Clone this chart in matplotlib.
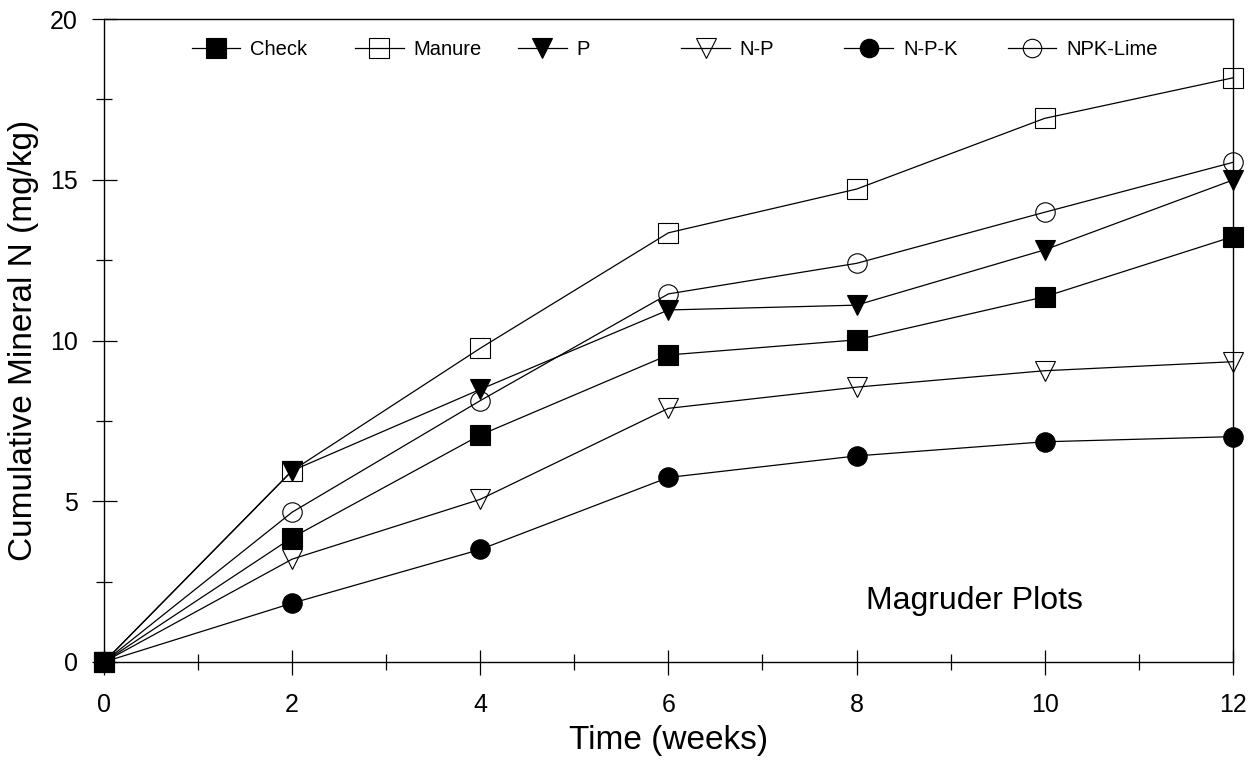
import matplotlib
matplotlib.use('Agg')
import matplotlib.pyplot as plt
from matplotlib.legend import Legend
from matplotlib.ticker import MultipleLocator

plt.rcParams['font.family'] = ['Liberation Sans', 'DejaVu Sans']

# sampling times (weeks)
weeks = [0, 2, 4, 6, 8, 10, 12]

# cumulative mineral N (mg/kg)
check    = [0, 3.87, 7.06, 9.55, 10.02, 11.36, 13.23]
manure   = [0, 5.95, 9.76, 13.35, 14.71, 16.91, 18.17]
p_only   = [0, 5.95, 8.48, 10.95, 11.10, 12.82, 14.99]
n_p      = [0, 3.20, 5.06, 7.89, 8.55, 9.06, 9.34]
n_p_k    = [0, 1.83, 3.50, 5.74, 6.41, 6.85, 7.01]
npk_lime = [0, 4.66, 8.13, 11.45, 12.40, 13.99, 15.54]

labels = ['Check', 'Manure', 'P', 'N-P', 'N-P-K', 'NPK-Lime']
series = [check, manure, p_only, n_p, n_p_k, npk_lime]
markers = ['s', 's', 'v', 'v', 'o', 'o']
filled = [True, False, True, False, True, False]
sizes = [15, 15, 15, 15, 14, 14]

fig = plt.figure(figsize=(12.49, 7.61), dpi=100)
ax = fig.add_axes([0.0833, 0.1301, 0.9037, 0.8449])

handles = [None] * len(series)
for i in reversed(range(len(series))):
    h, = ax.plot(weeks, series[i], color='black', linewidth=0.9,
                 marker=markers[i], markersize=sizes[i],
                 markerfacecolor='black' if filled[i] else 'none',
                 markeredgecolor='black', markeredgewidth=0.8,
                 clip_on=False, label=labels[i], zorder=3 + (len(series) - i))
    handles[i] = h

ax.set_xlim(0, 12)
ax.set_ylim(0, 20)
ax.xaxis.set_major_locator(MultipleLocator(2))
ax.xaxis.set_minor_locator(MultipleLocator(1))
ax.yaxis.set_major_locator(MultipleLocator(5))
ax.yaxis.set_minor_locator(MultipleLocator(2.5))
ax.tick_params(which='major', direction='inout', length=18, width=0.9,
               labelsize=18, pad=10)
ax.tick_params(which='minor', direction='inout', length=11, width=0.9)
ax.tick_params(axis='x', which='major', pad=13)
for sp in ax.spines.values():
    sp.set_linewidth(1.0)

ax.set_xlabel('Time (weeks)', fontsize=24, labelpad=6)
ax.set_ylabel('Cumulative Mineral N (mg/kg)', fontsize=24, labelpad=8)

ax.text(8.1, 1.9, 'Magruder Plots', fontsize=23, va='center', ha='left')

# legend entries sit at equal spacing along the top, like the original
leg_x0 = 0.078
leg_dx = 0.1445
for i in range(len(series)):
    leg = Legend(ax, [handles[i]], [labels[i]], loc='center left', frameon=False,
                 fontsize=14.5, handlelength=2.4, handletextpad=0.5,
                 bbox_to_anchor=(leg_x0 + i * leg_dx, 0.952),
                 borderaxespad=0, borderpad=0, markerscale=0.95)
    ax.add_artist(leg)

fig.savefig('out.png', dpi=100)
